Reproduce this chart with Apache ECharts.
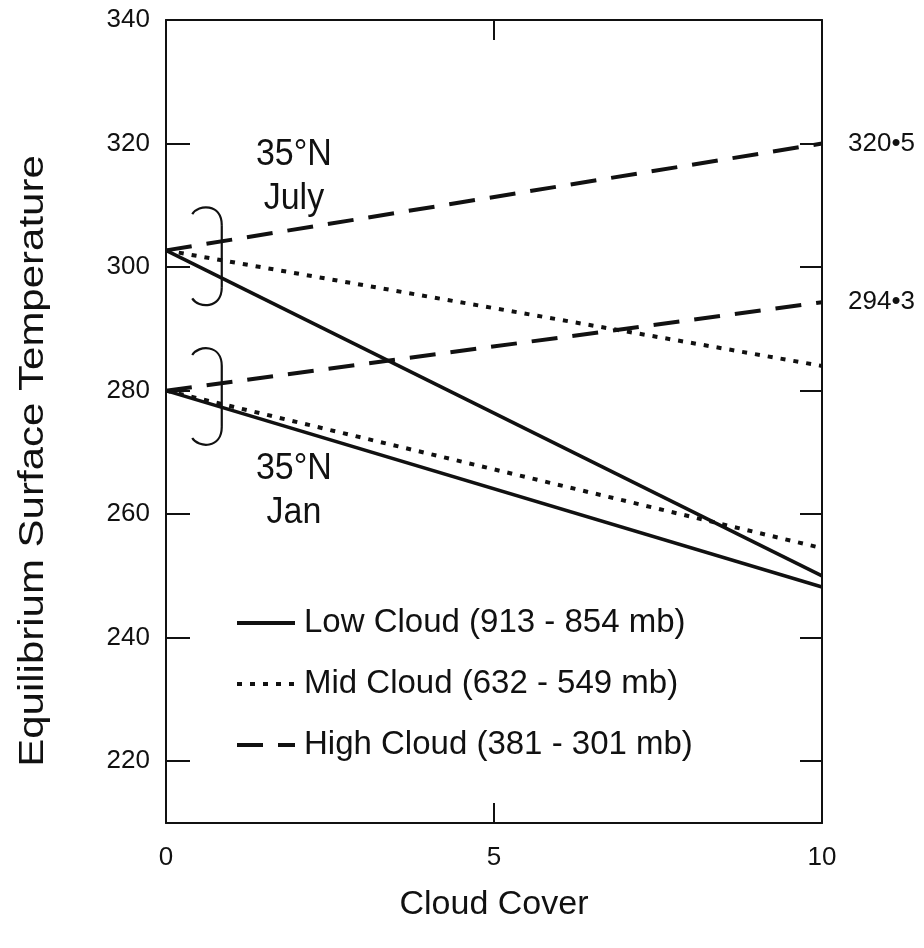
<!DOCTYPE html>
<html>
<head>
<meta charset="utf-8">
<script src="https://cdn.jsdelivr.net/npm/echarts@6/dist/echarts.min.js"></script>
<style>
html, body { margin: 0; background: #fff; }
#chart { width: 924px; height: 948px; }
</style>
</head>
<body>
<div id="chart"></div>
<script>
// data
const cloudCover = [0, 10]
const julyLow = [302.7, 250]
const julyMid = [302.7, 284]
const julyHigh = [302.7, 320]
const janLow = [280, 248.2]
const janMid = [280, 254.5]
const janHigh = [280, 294.3]
const cloudNames = ['Low Cloud (913 - 854 mb)', 'Mid Cloud (632 - 549 mb)', 'High Cloud (381 - 301 mb)']
const yTicks = [220, 240, 260, 280, 300, 320, 340]
const xTicks = [0, 5, 10]
const endLabels = ['320•5', '294•3']

const font = 'Liberation Sans, Arial, Helvetica, sans-serif'
const ink = '#111'
const styles = [
  { type: 'solid', width: 3.5 },
  { type: [5, 8], width: 4 },
  { type: [26, 15], width: 4 }
]

function pairs (ys) {
  return cloudCover.map((x, i) => [x, ys[i]])
}

function line (idx, ys, endLabel) {
  return {
    name: cloudNames[idx],
    type: 'line',
    data: pairs(ys),
    symbol: 'none',
    silent: true,
    lineStyle: { color: ink, width: styles[idx].width, type: styles[idx].type },
    itemStyle: { color: ink },
    endLabel: {
      show: !!endLabel,
      formatter: endLabel || '',
      distance: 26,
      color: ink,
      fontSize: 26,
      fontFamily: font
    }
  }
}

const axisLine = { show: true, onZero: false, lineStyle: { color: ink, width: 2 } }
const tickStyle = { color: ink, width: 2 }

let chart = echarts.init(document.getElementById('chart'))
chart.setOption({
  animation: false,
  backgroundColor: '#fff',
  grid: { left: 166, right: 102, top: 20, bottom: 125 },
  legend: {
    orient: 'vertical',
    left: 230,
    top: 601,
    itemWidth: 58,
    itemHeight: 14,
    itemGap: 27,
    selectedMode: false,
    data: cloudNames,
    itemStyle: { opacity: 0 },
    lineStyle: { width: 4 },
    textStyle: { color: ink, fontSize: 33, fontFamily: font, lineHeight: 34, padding: [0, 0, 0, 4] }
  },
  xAxis: [
    {
      type: 'value',
      min: 0,
      max: 10,
      interval: 5,
      position: 'bottom',
      axisLine: axisLine,
      axisTick: { inside: true, length: 20, customValues: [5], lineStyle: tickStyle },
      axisLabel: { customValues: xTicks, margin: 22, color: ink, fontSize: 26, fontFamily: font },
      splitLine: { show: false },
      name: 'Cloud Cover',
      nameLocation: 'middle',
      nameGap: 65,
      nameTextStyle: { color: ink, fontSize: 34, fontFamily: font }
    },
    {
      type: 'value',
      min: 0,
      max: 10,
      interval: 5,
      position: 'top',
      axisLine: axisLine,
      axisTick: { inside: true, length: 20, customValues: [5], lineStyle: tickStyle },
      axisLabel: { show: false },
      splitLine: { show: false }
    }
  ],
  yAxis: [
    {
      type: 'value',
      min: 210,
      max: 340,
      position: 'left',
      axisLine: axisLine,
      axisTick: { inside: true, length: 24, customValues: yTicks, lineStyle: tickStyle },
      axisLabel: { customValues: yTicks, margin: 16, color: ink, fontSize: 26, fontFamily: font },
      splitLine: { show: false }
    },
    {
      type: 'value',
      min: 210,
      max: 340,
      position: 'right',
      axisLine: axisLine,
      axisTick: { inside: true, length: 22, customValues: yTicks, lineStyle: tickStyle },
      axisLabel: { show: false },
      splitLine: { show: false }
    }
  ],
  series: [
    line(0, julyLow),
    line(1, julyMid),
    line(2, julyHigh, endLabels[0]),
    line(0, janLow),
    line(1, janMid),
    line(2, janHigh, endLabels[1])
  ]
})

// annotations placed in data units
function px (x, y) {
  return chart.convertToPixel({ gridIndex: 0 }, [x, y])
}

function brace (x0v, x1v, bottomV, topV) {
  const a = px(x0v, topV)
  const b = px(x1v, bottomV)
  const x0 = a[0], y0 = a[1], x1 = b[0], y1 = b[1]
  const st = { stroke: ink, lineWidth: 2.2, fill: 'none' }
  return [
    { type: 'bezierCurve', silent: true, shape: { x1: x0, y1: y0 + 7, cpx1: x0 + 6, cpy1: y0 - 3, cpx2: x1, cpy2: y0 - 4, x2: x1, y2: y0 + 18 }, style: st },
    { type: 'line', silent: true, shape: { x1: x1, y1: y0 + 18, x2: x1, y2: y1 - 18 }, style: st },
    { type: 'bezierCurve', silent: true, shape: { x1: x1, y1: y1 - 18, cpx1: x1, cpy1: y1 + 4, cpx2: x0 + 6, cpy2: y1 + 3, x2: x0, y2: y1 - 7 }, style: st }
  ]
}

function note (text, xv, yv) {
  const p = px(xv, yv)
  return {
    type: 'text',
    silent: true,
    x: p[0],
    y: p[1],
    scaleY: 1.1,
    style: { text: text, fill: ink, font: '34px ' + font, align: 'center', verticalAlign: 'middle', lineHeight: 40 }
  }
}

chart.setOption({
  graphic: [].concat(
    brace(0.4, 0.85, 293.8, 309.7),
    brace(0.4, 0.85, 271.2, 286.9),
    [
      note('35°N\nJuly', 1.95, 314.6),
      note('35°N\nJan', 1.95, 263.8),
      {
        type: 'text',
        silent: true,
        x: 33,
        y: 461,
        rotation: Math.PI / 2,
        scaleX: 1.2,
        style: { text: 'Equilibrium Surface Temperature', fill: ink, font: '35px ' + font, align: 'center', verticalAlign: 'middle' }
      }
    ]
  )
})
</script>
</body>
</html>
